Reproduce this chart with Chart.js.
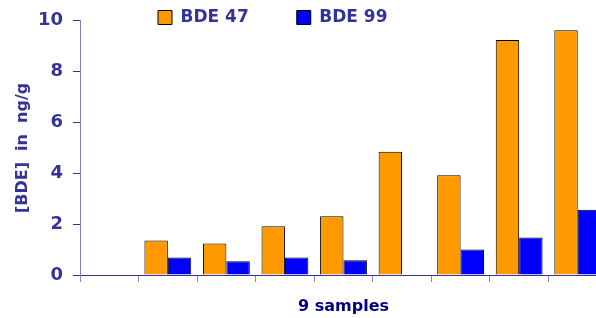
<!DOCTYPE html>
<html>
<head>
<meta charset="utf-8">
<script src="https://cdn.jsdelivr.net/npm/chart.js@4/dist/chart.umd.min.js"></script>
<style>
    html, body { margin: 0; padding: 0; background: #fff; overflow: hidden; }
    #wrap { width: 607px; height: 318px; }
</style>
</head>
<body>
<div id="wrap"><canvas id="bde-chart" width="607" height="318"></canvas></div>
<script>
// --- Data ---
const samples = ['1', '2', '3', '4', '5', '6', '7', '8', '9'];
const bde47 = [null, 1.36, 1.24, 1.92, 2.31, 4.85, 3.92, 9.24, 9.63];
const bde99 = [null, 0.69, 0.54, 0.69, 0.58, null, 1.0, 1.48, 2.57];
const yTicks = [0, 2, 4, 6, 8, 10];

const labelBlue = '#333399';
const legendPad = 48;

// legend squeezed into a thin strip above the plot, items placed where the original has them
const legendPlacement = {
    id: 'legendPlacement',
    beforeLayout(chart) {
        const legend = chart.legend;
        if (!legend || legend._patched) return;
        const fit = legend.fit;
        legend.fit = function () {
            fit.call(this);
            this.height = 20;
        };
        legend._patched = true;
    },
    afterLayout(chart) {
        const legend = chart.legend;
        legend.top = 9 - legendPad;
        legend.bottom = 32;
        legend.left = 158 - legendPad;
        legend.right = 607;
        legend.height = legend.bottom - legend.top;
        legend.width = legend.right - legend.left;
    }
};

const ctx = document.getElementById('bde-chart').getContext('2d');
new Chart(ctx, {
    type: 'bar',
    data: {
        labels: samples,
        datasets: [
            {
                label: 'BDE 47',
                data: bde47,
                backgroundColor: '#FF9900',
                borderColor: '#000000',
                borderWidth: 1,
                borderSkipped: 'bottom',
            },
            {
                label: 'BDE 99',
                data: bde99,
                backgroundColor: '#0000FF',
                borderColor: '#000000',
                borderWidth: 1,
                borderSkipped: 'bottom',
            }
        ]
    },
    options: {
        responsive: false,
        animation: false,
        layout: { padding: 0 },
        datasets: {
            bar: { categoryPercentage: 0.8, barPercentage: 1.0 }
        },
        plugins: {
            tooltip: { enabled: false },
            legend: {
                position: 'top',
                align: 'start',
                labels: {
                    boxWidth: 14,
                    boxHeight: 14,
                    padding: legendPad,
                    color: labelBlue,
                    font: { family: 'DejaVu Sans', size: 17, weight: 'bold' },
                }
            }
        },
        scales: {
            x: {
                offset: true,
                afterFit: (scale) => { scale.height = 43; },
                ticks: { display: false },
                grid: {
                    offset: true,
                    drawOnChartArea: false,
                    drawTicks: true,
                    tickLength: 7,
                    tickColor: '#8a8ab8',
                    lineWidth: 1,
                },
                border: { display: true, color: labelBlue, width: 1 },
                title: {
                    display: true,
                    text: '9 samples',
                    color: '#000080',
                    font: { family: 'DejaVu Sans', size: 16, weight: 'bold' },
                    padding: { top: 0, bottom: 2 },
                }
            },
            y: {
                min: 0,
                max: 10,
                afterFit: (scale) => { scale.width = 80; },
                afterBuildTicks: (scale) => { scale.ticks = yTicks.map(v => ({ value: v })); },
                ticks: {
                    color: labelBlue,
                    padding: 10,
                    font: { family: 'DejaVu Sans', size: 18, weight: 'bold' },
                },
                grid: {
                    drawOnChartArea: false,
                    drawTicks: true,
                    tickLength: 7,
                    tickColor: labelBlue,
                },
                border: { display: true, color: '#8080c0', width: 1 },
                title: {
                    display: true,
                    text: '[BDE]  in  ng/g',
                    color: labelBlue,
                    font: { family: 'DejaVu Sans', size: 16, weight: 'bold' },
                    padding: { top: 13, bottom: 0 },
                }
            }
        }
    },
    plugins: [legendPlacement]
});
</script>
</body>
</html>
